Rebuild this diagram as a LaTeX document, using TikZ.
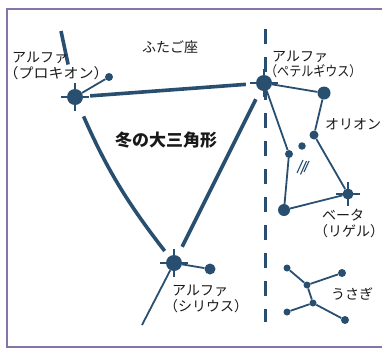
\documentclass[tikz,border=0pt]{standalone}
\usepackage{fontspec}
\setmainfont{Noto Sans CJK JP}
\newfontfamily\halffont[RawFeature=+halt]{Noto Sans CJK JP}
\newcommand{\kakko}[1]{{\halffont （}#1{\halffont ）}}
\usepackage{xcolor}
\definecolor{starblue}{HTML}{284F70}
\definecolor{framepurple}{HTML}{8474A8}
\tikzset{
  star/.style={circle, fill=starblue, inner sep=0pt, minimum size=#1},
  triline/.style={starblue, line width=3.6pt},
  conline/.style={starblue, line width=1.8pt},
  spike/.style={starblue, line width=1.1pt},
  jtext/.style={inner sep=0pt, anchor=west, text height=12.3pt, text depth=1.7pt,
    font=\fontsize{14}{16}\selectfont, text=black!90}
}
\begin{document}
\begin{tikzpicture}[x=1pt,y=-1pt]
\useasboundingbox (0,0) rectangle (382,349);
\draw[framepurple, line width=1.4pt] (382,9) -- (7,9) -- (7,347) -- (382,347);
% milky way edge
\draw[starblue, line width=3pt, dash pattern=on 15pt off 13pt] (265.5,29) -- (265.5,322);
% spikes of the bright stars
\foreach \x/\y in {75/97, 264/83, 174/263} {
  \draw[spike] (\x-14,\y) -- (\x+14,\y);
  \draw[spike] (\x,\y-14) -- (\x,\y+14);
}
\draw[spike] (336,194) -- (360,194);
\draw[spike] (348,182) -- (348,206);
% stars
\node[star=16pt] (procyon) at (75,97) {};
\node[star=8pt] (gomeisa) at (109,77) {};
\node[star=16pt] (betel) at (264,83) {};
\node[star=16pt] (sirius) at (174,263) {};
\node[star=11pt] (mirzam) at (210,269) {};
\node[star=13pt] (bellatrix) at (324,93) {};
\node[star=9pt] (mintaka) at (314,135) {};
\node[star=7.5pt] (alnilam) at (302,146) {};
\node[star=8pt] (alnitak) at (289,154) {};
\node[star=12pt] (saiph) at (284,210) {};
\node[star=11pt] (rigel) at (348,194) {};
\node[star=7pt] (lepa) at (287,268) {};
\node[star=8pt] (lepb) at (342,273) {};
\node[star=7pt] (lepc) at (307,285) {};
\node[star=7pt] (lepd) at (313,303) {};
\node[star=7pt] (lepe) at (287,312) {};
\node[star=8pt] (lepf) at (345,320) {};
\coordinate (gemtop) at (61,31);
\coordinate (canistail) at (142,325);
% winter triangle
\draw[triline, shorten >=25pt] (gemtop) -- (procyon);
\draw[triline, shorten <=7pt, shorten >=10pt] (procyon) -- (betel);
\draw[triline, shorten <=10pt, shorten >=10pt] (betel) -- (sirius);
\draw[triline, shorten <=13pt, shorten >=7pt] (procyon) to[bend right=7] (sirius);
% other lines
\draw[conline] (procyon) -- (gomeisa);
\draw[conline] (sirius) -- (mirzam);
\draw[conline] (sirius) -- (canistail);
\draw[conline] (betel) -- (bellatrix) -- (mintaka) -- (rigel) -- (saiph) -- (alnitak) -- (betel);
\draw[conline] (lepa) -- (lepc) -- (lepb);
\draw[conline] (lepc) -- (lepd);
\draw[conline] (lepe) -- (lepd) -- (lepf);
% sword
\draw[spike] (297,173) -- (303,160);
\draw[spike] (300.5,174.5) -- (306.5,161);
\draw[spike] (304,172) -- (309,161);
% texts
\node[jtext] (gemini) at (142,47.5) {ふたご座};
\node[jtext, font=\fontsize{17}{19}\selectfont\bfseries, text height=15pt, text depth=2pt] (triangle) at (115,140) {冬の大三角形};
\node[jtext] (procyona) at (12,57.5) {アルファ};
\node[jtext] (procyonb) at (11,73) {\scalebox{1.07}[1]{\kakko{プロキオン}}};
\node[jtext] (betela) at (272,56) {アルファ};
\node[jtext] (betelb) at (271,71.5) {\scalebox{0.86}[1]{\kakko{ペテルギウス}}};
\node[jtext] (orion) at (325,124) {オリオン};
\node[jtext] (rigela) at (322,215) {ベータ};
\node[jtext] (rigelb) at (321,231) {\kakko{リゲル}};
\node[jtext] (siriusa) at (172,290) {アルファ};
\node[jtext] (siriusb) at (171,306) {\kakko{シリウス}};
\node[jtext] (lepus) at (331,294) {うさぎ};
\end{tikzpicture}
\end{document}
